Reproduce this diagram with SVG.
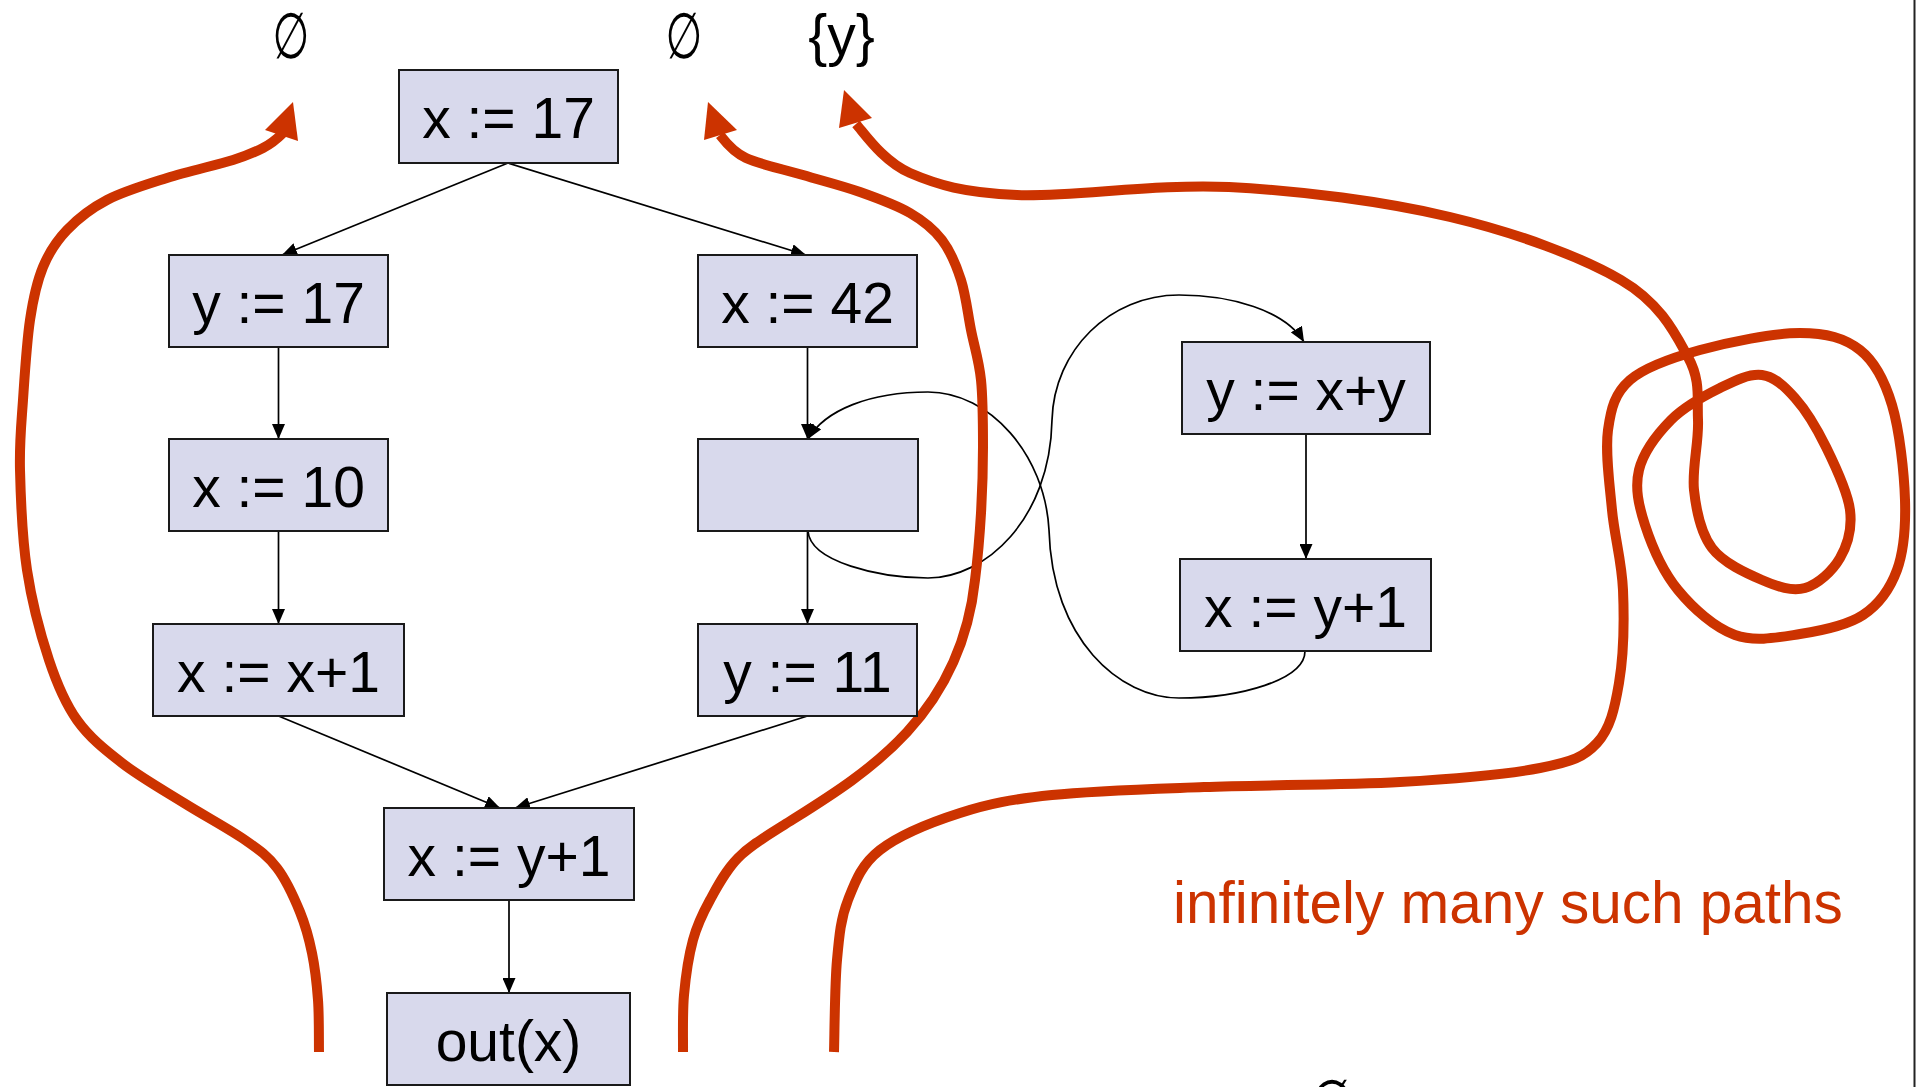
<svg xmlns="http://www.w3.org/2000/svg" width="1918" height="1087" viewBox="0 0 1918 1087">
<defs>
<style>
.box{fill:#d8d9ec;stroke:#1a1a1a;stroke-width:2}
.lbl{font-family:"Liberation Sans",Arial,sans-serif;font-size:57px;fill:#000;text-anchor:middle}
.edge{fill:none;stroke:#000;stroke-width:1.7}
.red{fill:none;stroke:#cc3300;stroke-width:10;stroke-linecap:butt;stroke-linejoin:round}
.redhead{fill:#cc3300}
.set{font-family:"Liberation Sans",Arial,sans-serif;font-size:57px;fill:#000;text-anchor:middle}
.empty{font-family:"DejaVu Sans",sans-serif;font-size:64px;fill:#000;text-anchor:middle}
.note{font-family:"Liberation Sans",Arial,sans-serif;font-size:58.5px;fill:#cc3300}
</style>
<marker id="arr" viewBox="0 0 15 13" refX="15" refY="6.5" markerWidth="15" markerHeight="13" markerUnits="userSpaceOnUse" orient="auto">
<path d="M0,0 L15,6.5 L0,13 z" fill="#000"/>
</marker>
</defs>
<rect x="0" y="0" width="1918" height="1087" fill="#fff"/>
<line x1="1914.5" y1="0" x2="1914.5" y2="1087" stroke="#222" stroke-width="2"/>

<g id="connectors">
<line class="edge" x1="508" y1="163" x2="282" y2="255" marker-end="url(#arr)"/>
<line class="edge" x1="508" y1="163" x2="806" y2="255" marker-end="url(#arr)"/>
<line class="edge" x1="278.5" y1="347" x2="278.5" y2="439" marker-end="url(#arr)"/>
<line class="edge" x1="278.5" y1="531" x2="278.5" y2="624" marker-end="url(#arr)"/>
<line class="edge" x1="807.5" y1="347" x2="807.5" y2="439" marker-end="url(#arr)"/>
<line class="edge" x1="807.5" y1="531" x2="807.5" y2="624" marker-end="url(#arr)"/>
<line class="edge" x1="278.5" y1="716" x2="500" y2="808" marker-end="url(#arr)"/>
<line class="edge" x1="807.5" y1="716" x2="515" y2="808" marker-end="url(#arr)"/>
<line class="edge" x1="509" y1="900" x2="509" y2="993" marker-end="url(#arr)"/>
<line class="edge" x1="1306" y1="434" x2="1306" y2="559" marker-end="url(#arr)"/>
<path class="edge" d="M808,531 C810,562 880,578 928,578 C985,578 1050,520 1052,420 C1054,350 1110,295 1179,295 C1230,295 1285,310 1304,342" marker-end="url(#arr)"/>
<path class="edge" d="M1305,651 C1305,680 1240,698 1179,698 C1120,698 1052,640 1049,530 C1045,455 990,392 928,392 C870,392 825,410 808,439" marker-end="url(#arr)"/>
</g>

<g id="paths">
<path class="red" d="M319,1052 C318.8,1043.3 319.2,1016.5 318,1000 C316.8,983.5 315,967.7 312,953 C309,938.3 305.8,926.2 300,912 C294.2,897.8 286.2,880 277,868 C267.8,856 260.5,850.8 245,840 C229.5,829.2 204.5,815.8 184,803 C163.5,790.2 139.8,776.8 122,763 C104.2,749.2 89.2,737.2 77,720 C64.8,702.8 57.3,685 49,660 C40.7,635 31.8,601.7 27,570 C22.2,538.3 20.7,498.3 20,470 C19.3,441.7 21.3,425 23,400 C24.7,375 26.7,342.2 30,320 C33.3,297.8 36.8,282 43,267 C49.2,252 56.3,241.2 67,230 C77.7,218.8 90.3,208.7 107,200 C123.7,191.3 146,184.7 167,178 C188,171.3 217,165 233,160 C249,155 254.8,152.2 263,148 C271.2,143.8 278.8,137.2 283,133"/>
<polygon class="redhead" points="293,102 265,130 298,141"/>
<path class="red" d="M683,1052 C683.2,1042.5 682.3,1013.7 684,995 C685.7,976.3 688.7,955.8 693,940 C697.3,924.2 702.5,913.7 710,900 C717.5,886.3 725.7,870.5 738,858 C750.3,845.5 765.3,836.8 784,825 C860,777 960,720 975,580 C978,556.3 979.7,535.2 981,513 C982.3,490.8 983,469.2 983,447 C983,424.8 983,399.5 981,380 C979,360.5 974.3,346.7 971,330 C967.7,313.3 965.8,295 961,280 C956.2,265 950.5,251.2 942,240 C933.5,228.8 923.7,221 910,213 C896.3,205 877.8,198.3 860,192 C842.2,185.7 822,180.7 803,175 C784,169.3 760.3,164.7 746,158 C731.7,151.3 724,140 720,135"/>
<polygon class="redhead" points="708,102 704,140 737,130"/>
<path class="red" d="M856,124 C864.2,133 883,161.3 910,173 C937,184.7 963.8,192.7 1017,195 C1070.2,197.3 1156.8,183.3 1229,187 C1301.2,190.7 1384.7,201.5 1450,217 C1515.3,232.5 1581.3,256.7 1621,280 C1660.7,303.3 1675.2,333.7 1688,357 C1700.8,380.3 1697,397.8 1698,420 C1699,442.2 1691.7,468.7 1694,490 C1696.3,511.3 1700.7,533 1712,548 C1723.3,563 1746.5,573.3 1762,580 C1777.5,586.7 1792,591.7 1805,588 C1818,584.3 1832.5,571 1840,558 C1847.5,545 1852.3,528.5 1850,510 C1847.7,491.5 1835.2,465.7 1826,447 C1816.8,428.3 1805.7,410 1795,398 C1784.3,386 1774.5,376.7 1762,375 C1749.5,373.3 1735.2,380.5 1720,388 C1704.8,395.5 1684.5,406.3 1671,420 C1657.5,433.7 1643.3,452.5 1639,470 C1634.7,487.5 1638.5,505 1645,525 C1651.5,545 1663,571.7 1678,590 C1693,608.3 1714.7,627.7 1735,635 C1755.3,642.3 1778.7,637.3 1800,634 C1821.3,630.7 1846.8,625.7 1863,615 C1879.2,604.3 1890,589.2 1897,570 C1904,550.8 1905.8,527.5 1905,500 C1904.2,472.5 1899.5,430 1892,405 C1884.5,380 1875.3,362 1860,350 C1844.7,338 1826.7,333 1800,333 C1773.3,333 1728.3,342.2 1700,350 C1671.7,357.8 1645.3,366.7 1630,380 C1614.7,393.3 1611,408.3 1608,430 C1605,451.7 1609.5,483.3 1612,510 C1614.5,536.7 1621.8,561.2 1623,590 C1624.2,618.8 1623.3,657.5 1619,683 C1614.7,708.5 1610.2,728.8 1597,743 C1583.8,757.2 1572.8,761.5 1540,768 C1507.2,774.5 1456,778.8 1400,782 C1344,785.2 1262,784.8 1204,787 C1146,789.2 1092.7,790.7 1052,795 C1011.3,799.3 988.7,803.8 960,813 C931.3,822.2 898.7,835.5 880,850 C861.3,864.5 855.2,881.7 848,900 C840.8,918.3 839.3,934.7 837,960 C834.7,985.3 834.5,1036.7 834,1052"/>
<polygon class="redhead" points="844,90 839,128 872,118"/>
</g>

<g id="n1"><rect class="box" x="399" y="70" width="219" height="93"/><text class="lbl" x="508.5" y="138">x := 17</text></g>
<g id="n2"><rect class="box" x="169" y="255" width="219" height="92"/><text class="lbl" x="278.5" y="323">y := 17</text></g>
<g id="n3"><rect class="box" x="698" y="255" width="219" height="92"/><text class="lbl" x="807.5" y="323">x := 42</text></g>
<g id="n4"><rect class="box" x="169" y="439" width="219" height="92"/><text class="lbl" x="278.5" y="507">x := 10</text></g>
<g id="n5"><rect class="box" x="698" y="439" width="220" height="92"/></g>
<g id="n6"><rect class="box" x="153" y="624" width="251" height="92"/><text class="lbl" x="278.5" y="692">x := x+1</text></g>
<g id="n7"><rect class="box" x="698" y="624" width="219" height="92"/><text class="lbl" x="807.5" y="692">y := 11</text></g>
<g id="n8"><rect class="box" x="384" y="808" width="250" height="92"/><text class="lbl" x="509" y="876">x := y+1</text></g>
<g id="n9"><rect class="box" x="387" y="993" width="243" height="92"/><text class="lbl" x="508.5" y="1061">out(x)</text></g>
<g id="n10"><rect class="box" x="1182" y="342" width="248" height="92"/><text class="lbl" x="1306" y="410">y := x+y</text></g>
<g id="n11"><rect class="box" x="1180" y="559" width="251" height="92"/><text class="lbl" x="1305.5" y="627">x := y+1</text></g>

<g id="labels">
<text class="empty" transform="translate(291,58) scale(0.66,1)">∅</text>
<text class="empty" transform="translate(684,58) scale(0.66,1)">∅</text>
<text class="set" x="841.5" y="55">{y}</text>
<text class="note" x="1173" y="923">infinitely many such paths</text>
<text class="empty" transform="translate(1332,1125) scale(0.8,1)">∅</text>
</g>
</svg>
